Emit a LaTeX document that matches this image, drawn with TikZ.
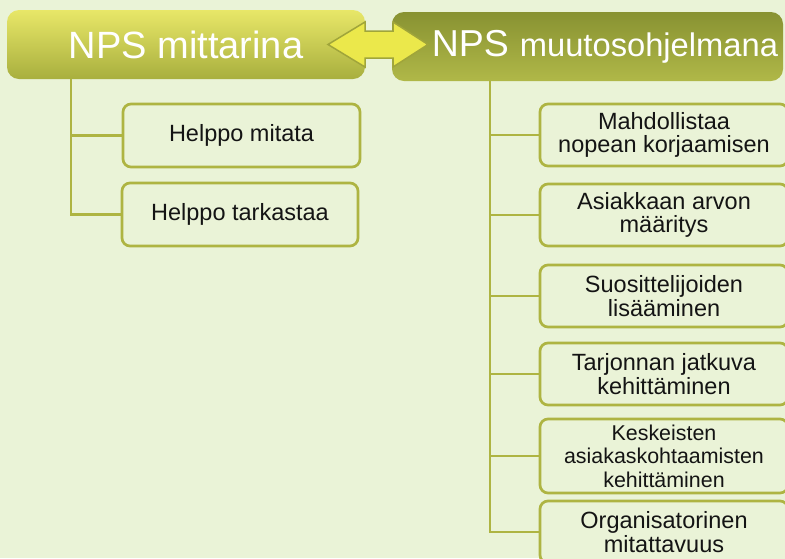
\documentclass[tikz,border=0pt]{standalone}
\usepackage{fontspec}
\setmainfont{Liberation Sans}
\definecolor{bg}{RGB}{234,243,215}
\definecolor{olive}{RGB}{174,180,66}
\definecolor{hAtop}{RGB}{232,231,104}
\definecolor{hAbot}{RGB}{168,175,62}
\definecolor{hBtop}{RGB}{136,146,50}
\definecolor{hBbot}{RGB}{176,184,72}
\definecolor{arrowfill}{RGB}{235,232,75}
\definecolor{arrowline}{RGB}{160,165,58}
\begin{document}
\begin{tikzpicture}[x=1pt,y=-1pt,
 conn/.style={draw=olive,line width=2.7pt},
 item/.style={draw=olive,line width=2.7pt,fill=bg,rounded corners=8pt,align=center,
   font=\fontsize{23.5}{23.5}\selectfont,text=black!92,inner sep=2pt},
 rightitem/.style={item,minimum width=248pt,minimum height=62pt},
 header/.style={rounded corners=12pt,text=white,minimum height=69pt,inner sep=0pt}]
\fill[bg] (0,0) rectangle (785,558);
\useasboundingbox (0,0) rectangle (785,558);
\clip (0,0) rectangle (785,558);

% headers
\node[header,minimum width=358pt,top color=hAtop,bottom color=hAbot,
      font=\fontsize{38}{38}\selectfont] (h1) at (186,44.5) {NPS mittarina};
\node[header,minimum width=391pt,text width=381pt,align=right,inner xsep=5pt,
      top color=hBtop,bottom color=hBbot] (h2) at (587.5,46.5)
      {\fontsize{37.5}{38}\selectfont NPS\hspace{11pt}\fontsize{32.7}{38}\selectfont muutosohjelmana};

% left items
\node[item,minimum width=237pt,minimum height=63pt] (l1) at (241.5,135.5) {Helppo mitata};
\node[item,minimum width=236pt,minimum height=63pt] (l2) at (240,214.5) {Helppo tarkastaa};

% right items
\node[rightitem] (r1) at (664,135) {Mahdollistaa\\nopean korjaamisen};
\node[rightitem] (r2) at (664,215) {Asiakkaan arvon\\määritys};
\node[rightitem] (r3) at (664,296) {Suosittelijoiden\\lisääminen};
\node[rightitem] (r4) at (664,374) {Tarjonnan jatkuva\\kehittäminen};
\node[rightitem,minimum height=74pt,font=\fontsize{21.4}{23.5}\selectfont] (r5) at (664,456)
      {Keskeisten\\asiakaskohtaamisten\\kehittäminen};
\node[rightitem] (r6) at (664,532) {Organisatorinen\\mitattavuus};

% connectors
\path (h1.south) ++(-115,0) coordinate (tA);
\path (h2.south) ++(-97.5,0) coordinate (tB);
\foreach \n in {l1,l2} \draw[conn] (tA) |- (\n.west);
\foreach \n in {r1,r2,r3,r4,r5,r6} \draw[conn] (tB) |- (\n.west);

% double arrow
\draw[fill=arrowfill,draw=arrowline,line width=1.5pt,line join=miter]
  (328,44.5) -- (365,22) -- (365,31) -- (393,31) -- (393,22) -- (428,44.5)
  -- (393,67) -- (393,58) -- (365,58) -- (365,67) -- cycle;
\end{tikzpicture}
\end{document}
